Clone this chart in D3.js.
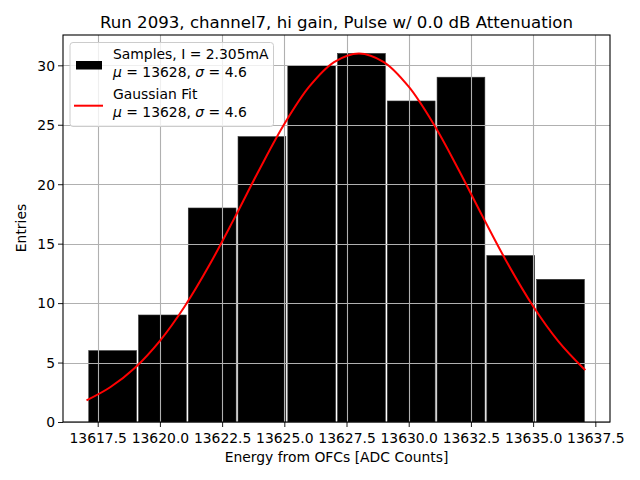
<!DOCTYPE html>
<html><head><meta charset="utf-8">
<script src="https://cdn.jsdelivr.net/npm/d3@7"></script>
<style>body{margin:0;background:#fff}svg text{font-family:"DejaVu Sans",sans-serif}</style>
</head><body>
<script>
// ---- data ----
const binEdges = [13617.1,13619.1,13621.1,13623.1,13625.1,13627.1,13629.1,13631.1,13633.1,13635.1,13637.1];
const counts = [6, 9, 18, 24, 30, 31, 27, 29, 14, 12];
const fitX = [13617.05,13618,13619,13620,13621,13622,13623,13624,13625,13626,13627,13628,13629,13630,13631,13632,13633,13634,13635,13636,13637,13637.1];
const fitY = [1.82,2.92,4.57,6.83,9.74,13.24,17.17,21.24,25.06,28.20,30.27,31.0,30.27,28.20,25.06,21.24,17.17,13.24,9.74,6.83,4.57,4.38];
const xTicks = [13617.5,13620.0,13622.5,13625.0,13627.5,13630.0,13632.5,13635.0,13637.5];
const yTicks = [0,5,10,15,20,25,30];
const title = "Run 2093, channel7, hi gain, Pulse w/ 0.0 dB Attenuation";
const xLabel = "Energy from OFCs [ADC Counts]";
const yLabel = "Entries";

const W=640,H=480, L=63, R=610, T=35, B=422;
const svg=d3.select("body").append("svg").attr("width",W).attr("height",H);
const x=d3.scaleLinear().domain([13616.105,13638.09]).range([L,R]);
const y=d3.scaleLinear().domain([0,32.55]).range([B,T]);

// bars
const bins = counts.map((c,i)=>({x0:binEdges[i],x1:binEdges[i+1],c}));
svg.append("g").selectAll("rect").data(bins).join("rect")
  .attr("x",d=>x(d.x0)+1).attr("width",d=>x(d.x1)-x(d.x0)-2)
  .attr("y",d=>y(d.c)).attr("height",d=>y(0)-y(d.c))
  .attr("fill","#000").attr("stroke","#333").attr("stroke-width",0.6);

// grid (above bars)
const g=svg.append("g");
g.selectAll(".gx").data(xTicks).join("line").attr("x1",d=>Math.round(x(d))+0.5).attr("x2",d=>Math.round(x(d))+0.5)
  .attr("y1",T).attr("y2",B).attr("stroke","#b0b0b0").attr("stroke-width",1.1);
g.selectAll(".gy").data(yTicks).join("line").attr("y1",d=>Math.round(y(d))+0.5).attr("y2",d=>Math.round(y(d))+0.5)
  .attr("x1",L).attr("x2",R).attr("stroke","#b0b0b0").attr("stroke-width",1.1);

// fit curve
const pts=fitX.map((v,i)=>[v,fitY[i]]);
svg.append("path").datum(pts).attr("fill","none").attr("stroke","#ff0000").attr("stroke-width",2)
  .attr("d",d3.line().x(d=>x(d[0])).y(d=>y(d[1])).curve(d3.curveCatmullRom));

// axes
const xa=svg.append("g").attr("transform",`translate(0,${B})`)
  .call(d3.axisBottom(x).tickValues(xTicks).tickFormat(d3.format(".1f")).tickSize(5).tickSizeOuter(0));
const ya=svg.append("g").attr("transform",`translate(${L},0)`)
  .call(d3.axisLeft(y).tickValues(yTicks).tickFormat(d3.format("d")).tickSize(5).tickSizeOuter(0));
[xa,ya].forEach(a=>{a.select(".domain").remove();a.selectAll("text").attr("font-size","13.9px").attr("fill","#000")
  .style("font-family","DejaVu Sans");a.selectAll("line").attr("stroke","#000").attr("stroke-width",0.9);});
xa.selectAll("text").attr("dy",null).attr("y",20.5);
ya.selectAll("text").attr("dy","0.35em").attr("x",-8);

// frame
svg.append("rect").attr("x",L).attr("y",T).attr("width",R-L).attr("height",B-T)
  .attr("fill","none").attr("stroke","#000").attr("stroke-width",1.1);

// labels
svg.append("text").attr("x",(L+R)/2).attr("y",28).attr("text-anchor","middle").attr("font-size","16.6px").text(title);
svg.append("text").attr("x",(L+R)/2).attr("y",462).attr("text-anchor","middle").attr("font-size","13.9px").text(xLabel);
svg.append("text").attr("transform","translate(26,228) rotate(-90)").attr("text-anchor","middle").attr("font-size","13.9px").text(yLabel);

// legend
const lg=svg.append("g");
lg.append("rect").attr("x",70).attr("y",42.5).attr("width",203.5).attr("height",84).attr("rx",3)
  .attr("fill","#fff").attr("fill-opacity",0.8).attr("stroke","#ccc").attr("stroke-width",1);
lg.append("rect").attr("x",76).attr("y",61).attr("width",26).attr("height",8.5).attr("fill","#000");
lg.append("line").attr("x1",74).attr("x2",103).attr("y1",105.7).attr("y2",105.7).attr("stroke","#ff0000").attr("stroke-width",2);
function mu(t,yy){
  const tx=lg.append("text").attr("x",113).attr("y",yy).attr("font-size","13.9px");
  tx.append("tspan").attr("font-style","italic").text("μ");
  tx.append("tspan").text(" = 13628, ");
  tx.append("tspan").attr("font-style","italic").text("σ");
  tx.append("tspan").text(" = 4.6");
}
lg.append("text").attr("x",113).attr("y",59).attr("font-size","13.9px").text("Samples, I = 2.305mA");
mu(null,77);
lg.append("text").attr("x",113).attr("y",98.5).attr("font-size","13.9px").text("Gaussian Fit");
mu(null,116.5);
</script>
</body></html>
